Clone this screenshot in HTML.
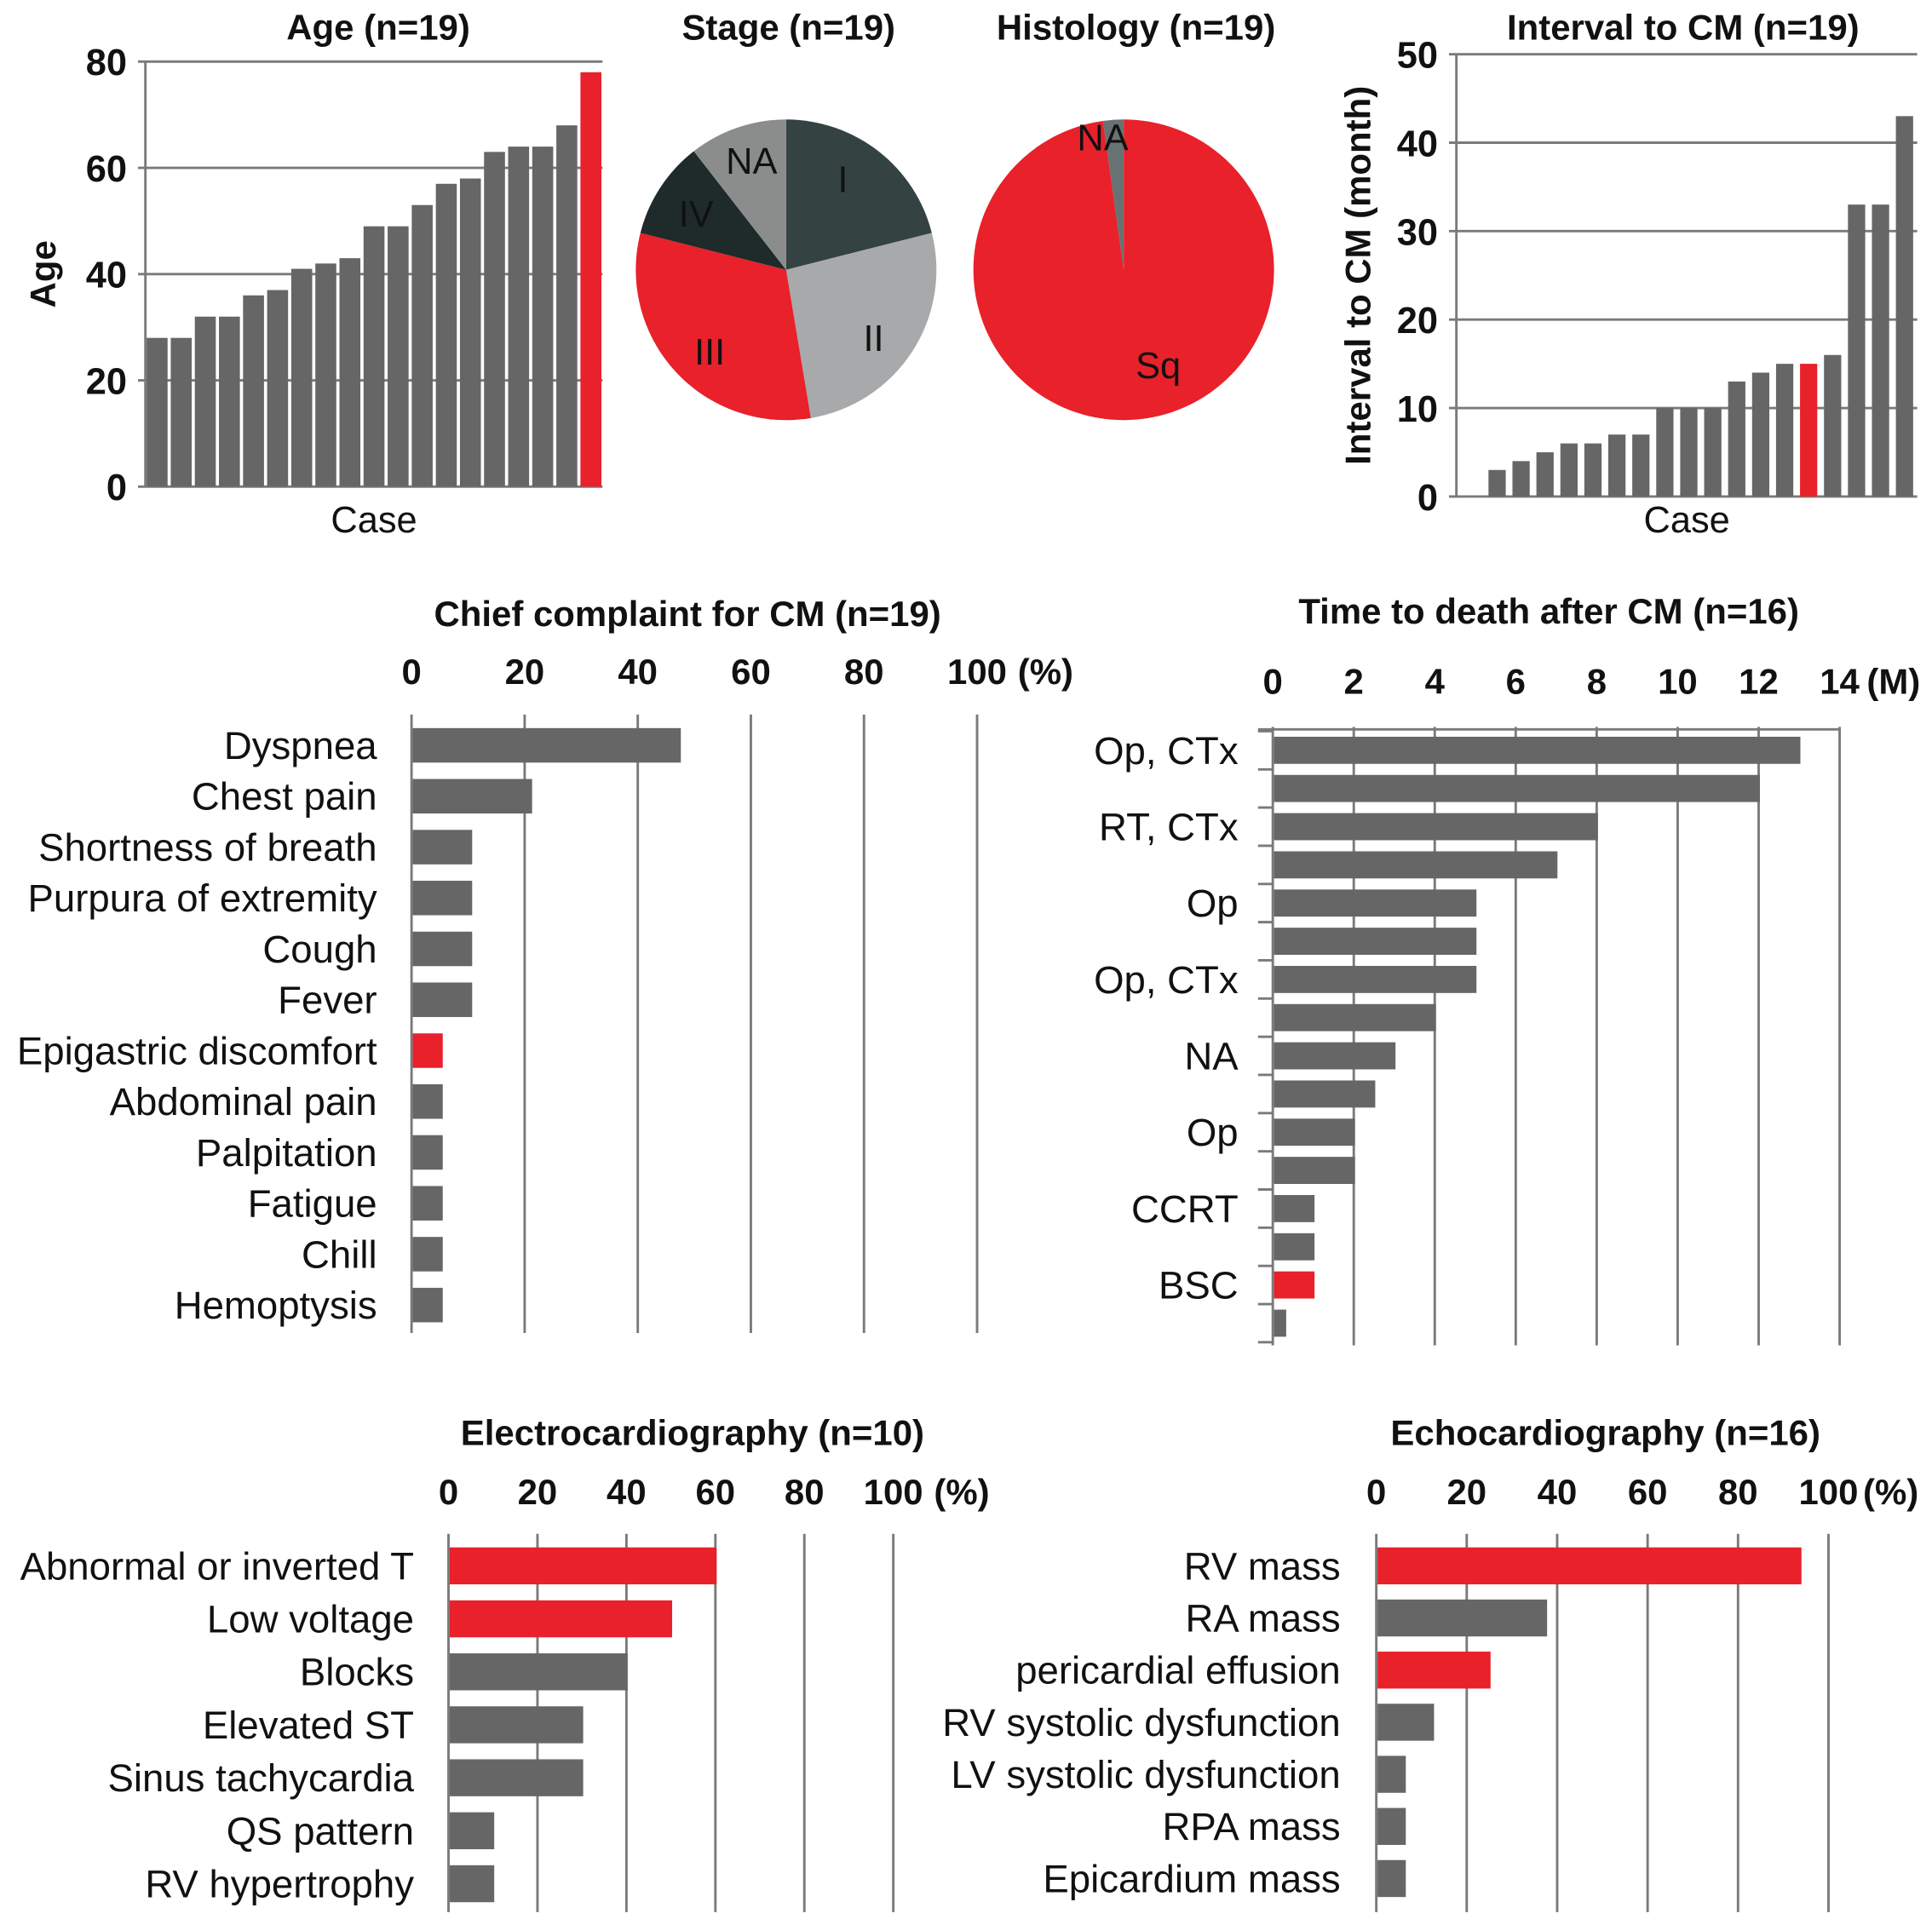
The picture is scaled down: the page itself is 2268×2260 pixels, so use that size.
<!DOCTYPE html>
<html><head><meta charset="utf-8"><style>
html,body{margin:0;padding:0;background:#fff}
svg{display:block}
text{font-family:"Liberation Sans",Arial,sans-serif;fill:#111}
</style></head><body>
<svg id="fig" xmlns="http://www.w3.org/2000/svg" width="2268" height="2260" viewBox="0 0 1568 1562.5"></svg>
<script>
// ---- data ----
const ageValues=[28,28,32,32,36,37,41,42,43,49,49,53,57,58,63,64,64,68,78];
const ageHighlight=[18];
const ageTicks=[0,20,40,60,80];
const stageLabels=["I","II","III","IV","NA"];
const stageCounts=[4,5,6,2,2];
const histLabels=["Sq","NA"];
const histShares=[97.8,2.2];
const intervalValues=[0,3,4,5,6,6,7,7,10,10,10,13,14,15,15,16,33,33,43];
const intervalHighlight=[14];
const intervalTicks=[0,10,20,30,40,50];
const ccCategories=["Dyspnea","Chest pain","Shortness of breath","Purpura of extremity","Cough","Fever","Epigastric discomfort","Abdominal pain","Palpitation","Fatigue","Chill","Hemoptysis"];
const ccValues=[47.4,21.1,10.5,10.5,10.5,10.5,5.3,5.3,5.3,5.3,5.3,5.3];
const ccHighlight=[6];
const pctTicks=[0,20,40,60,80,100];
const ttdValues=[13,12,8,7,5,5,5,4,3,2.5,2,2,1,1,1,0.3];
const ttdLabels=["Op, CTx","","RT, CTx","","Op","","Op, CTx","","NA","","Op","","CCRT","","BSC",""];
const ttdHighlight=[14];
const ttdTicks=[0,2,4,6,8,10,12,14];
const ecgCategories=["Abnormal or inverted T","Low voltage","Blocks","Elevated ST","Sinus tachycardia","QS pattern","RV hypertrophy"];
const ecgValues=[60,50,40,30,30,10,10];
const ecgHighlight=[0,1];
const echoCategories=["RV mass","RA mass","pericardial effusion","RV systolic dysfunction","LV systolic dysfunction","RPA mass","Epicardium mass"];
const echoValues=[93.75,37.5,25,12.5,6.25,6.25,6.25];
const echoHighlight=[0,2];

const NS="http://www.w3.org/2000/svg";
const svg=document.getElementById('fig');
const GRAY="#666666",RED="#e8212b",GRID="#7a7a7a";
function mk(tag,attrs,parent){const e=document.createElementNS(NS,tag);for(const k in attrs)e.setAttribute(k,attrs[k]);(parent||svg).appendChild(e);return e;}
function txt(s,x,y,size,anchor,weight,parent){const t=mk('text',{x:x,y:y,'font-size':size,'text-anchor':anchor||'middle','font-weight':weight||'normal'},parent);t.textContent=s;return t;}
function grp(name){const g=mk('g',{});return g;}

// ---- vertical bar chart ----
function vbar(name,title,titleX,vals,hl,ticks,x0,x1,y0,y1,max,slotStart,pitch,bw,ytitle,ytitleX){
  const g=grp(name);
  const ys=v=>y0-(v/max)*(y0-y1);
  const tt=txt(title,titleX,32,29,'middle','bold',g);
  
  ticks.forEach(t=>{
    const l=mk('line',{x1:x0-6,x2:x1,y1:ys(t),y2:ys(t),stroke:GRID,'stroke-width':2},g);
    
    const lb=txt(String(t),x0-15,ys(t)+11,30,'end','bold',g);
    
  });
  const ax=mk('line',{x1:x0,x2:x0,y1:y1,y2:y0,stroke:GRID,'stroke-width':2},g);
  
  vals.forEach((v,i)=>{
    const cx=slotStart+i*pitch;
    const r=mk('rect',{x:cx-bw/2,y:ys(v),width:bw,height:y0-ys(v),fill:hl.includes(i)?RED:GRAY},g);
    
  });
  const c=txt('Case',(x0+x1)/2,432,30,'middle','normal',g);
  
  const yt=txt(ytitle,0,0,29,'middle','bold',g);
  yt.setAttribute('transform','translate('+ytitleX+','+((y0+y1)/2)+') rotate(-90)');
  
}
vbar('age-chart','Age (n=19)',307,ageValues,ageHighlight,ageTicks,118,489,395,50,80,127.5,19.56,17,'Age',45);
vbar('interval-chart','Interval to CM (n=19)',1366,intervalValues,intervalHighlight,intervalTicks,1182,1556,403,44,50,1195.6,19.45,14,'Interval  to CM (month)',1112);

// ---- pies ----
function pie(name,title,titleX,counts,labels,colors,cx,cy,r,startDeg,labelPos){
  const g=grp(name);
  const tt=txt(title,titleX,32,29,'middle','bold',g);
  
  const tot=counts.reduce((a,b)=>a+b,0);
  let a=startDeg;
  counts.forEach((c,i)=>{
    const a2=a+c/tot*360;
    const p=d=>[cx+r*Math.sin(d*Math.PI/180),cy-r*Math.cos(d*Math.PI/180)];
    const [xA,yA]=p(a),[xB,yB]=p(a2);
    const path=mk('path',{d:`M${cx},${cy} L${xA},${yA} A${r},${r} 0 ${a2-a>180?1:0} 1 ${xB},${yB} Z`,fill:colors[i]},g);
    
    const lp=labelPos[i];
    const t=txt(labels[i],lp[0],lp[1],30,'middle','normal',g);
    
    a=a2;
  });
}
pie('stage-pie','Stage (n=19)',640,stageCounts,stageLabels,["#344242","#a7a9aa",RED,"#1f2a2a","#8b8d8d"],638,219,122,0,[[684,156],[709,285],[576,296],[565,184],[610,141]]);
pie('histology-pie','Histology  (n=19)',922,histShares,histLabels,[RED,"#687272"],912,219,122,0,[[940,307],[895,122]]);

// ---- horizontal bar chart ----
function hbar(name,title,titleX,titleY,cats,vals,hl,ticks,unit,unitOff,x0,pxPer,tickY,gridTop,gridBot,rowY0,rowStep,bh,labelX,topLine,leftTicks){
  const g=grp(name);
  const tt=txt(title,titleX,titleY,29,'middle','bold',g);
  
  const xs=v=>x0+v*pxPer;
  ticks.forEach(t=>{
    const l=mk('line',{x1:xs(t),x2:xs(t),y1:gridTop,y2:gridBot,stroke:GRID,'stroke-width':2},g);
    
    const lb=txt(String(t),xs(t),tickY,29,'middle','bold',g);
    
  });
  const u=txt(unit,xs(ticks[ticks.length-1])+unitOff,tickY,29,'start','bold',g);
  
  if(topLine){const l=mk('line',{x1:x0-12,x2:xs(ticks[ticks.length-1]),y1:gridTop+2,y2:gridTop+2,stroke:GRID,'stroke-width':2},g);
    }
  if(leftTicks){for(let i=0;i<=cats.length;i++){const y=rowY0-rowStep/2+i*rowStep;
    const l=mk('line',{x1:x0-12,x2:x0,y1:y,y2:y,stroke:GRID,'stroke-width':2},g);
    }}
  vals.forEach((v,i)=>{
    const y=rowY0+i*rowStep;
    const r=mk('rect',{x:x0+1,y:y-bh/2,width:xs(v)-x0,height:bh,fill:hl.includes(i)?RED:GRAY},g);
    
    if(cats[i]){const t=txt(cats[i],labelX,y+11,31.5,'end','normal',g);
      }
  });
}
hbar('chief-complaint-chart','Chief complaint for CM (n=19)',558,508,ccCategories,ccValues,ccHighlight,pctTicks,'(%)',33,334,4.59,555,580,1082,605,41.3,28,306,false,false);
hbar('time-to-death-chart','Time to death after CM (n=16)',1257,506,ttdLabels,ttdValues,ttdHighlight,ttdTicks,'(M)',22,1033,32.86,563,590,1092,609,31,22,1005,true,true);
hbar('ecg-chart','Electrocardiography (n=10)',562,1173,ecgCategories,ecgValues,ecgHighlight,pctTicks,'(%)',33,364,3.61,1221,1245,1552,1271,43,30,336,false,false);
hbar('echo-chart','Echocardiography (n=16)',1303,1173,echoCategories,echoValues,echoHighlight,pctTicks,'(%)',28,1117,3.67,1221,1245,1552,1271,42.3,30,1088,false,false);
</script>
</body></html>
